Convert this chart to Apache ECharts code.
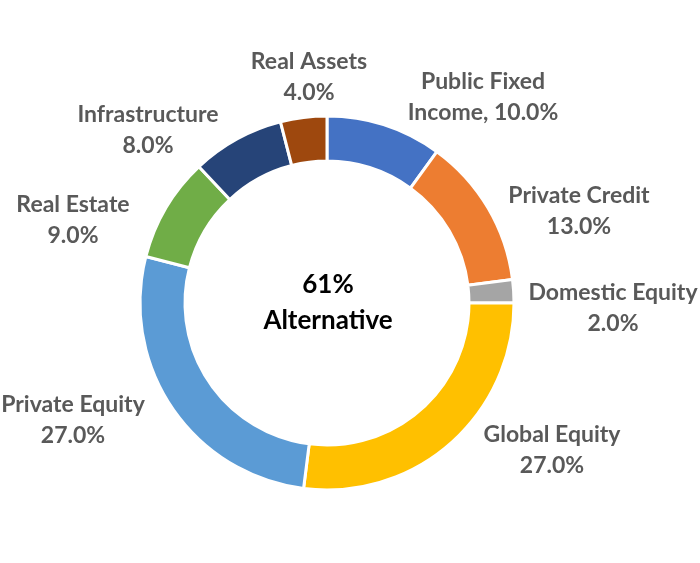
<!DOCTYPE html>
<html>
<head>
<meta charset="utf-8">
<script src="https://cdn.jsdelivr.net/npm/echarts@6/dist/echarts.min.js"></script>
<style>html,body{margin:0;padding:0;background:#fff}#c{width:700px;height:563px}</style>
</head>
<body>
<div id="c"></div>
<script>
// ---- data ----
const categories = ['Public Fixed Income', 'Private Credit', 'Domestic Equity', 'Global Equity', 'Private Equity', 'Real Estate', 'Infrastructure', 'Real Assets'];
const allocations = [10.0, 13.0, 2.0, 27.0, 27.0, 9.0, 8.0, 4.0];
const centerValue = '61%';
const centerCaption = 'Alternative';

// ---- style ----
const colors = ['#4472C4', '#ED7D31', '#A5A5A5', '#FFC000', '#5B9BD5', '#70AD47', '#264478', '#9E480E'];
const labelAnchors = [[483, 97], [579, 211], [613, 308], [552, 450], [73, 420], [73, 220], [148, 130], [309, 77]];
const FONT = 'Lato, "Open Sans", sans-serif';

const chart = echarts.init(document.getElementById('c'));
chart.setOption({
  animation: false,
  color: colors,
  graphic: [
    { type: 'text', x: 328, y: 285, style: { text: centerValue, align: 'center', verticalAlign: 'middle', font: 'bold 26px ' + FONT, fill: '#000' } },
    { type: 'text', x: 328, y: 321, style: { text: centerCaption, align: 'center', verticalAlign: 'middle', font: 'bold 26px ' + FONT, fill: '#000' } }
  ],
  series: [{
    type: 'pie',
    center: [327, 303],
    radius: [142, 187],
    startAngle: 90,
    clockwise: true,
    avoidLabelOverlap: false,
    itemStyle: { borderColor: '#fff', borderWidth: 3 },
    label: {
      show: true,
      position: 'outside',
      color: '#595959',
      fontFamily: FONT,
      fontWeight: 'bold',
      fontSize: 23,
      lineHeight: 31,
      align: 'center',
      formatter: function (p) {
        const pct = p.value.toFixed(1) + '%';
        if (p.name === 'Public Fixed Income') return 'Public Fixed\nIncome, ' + pct;
        return p.name + '\n' + pct;
      }
    },
    labelLine: { show: false },
    labelLayout: function (p) {
      const a = labelAnchors[p.dataIndex];
      return { x: a[0], y: a[1], align: 'center', verticalAlign: 'middle' };
    },
    data: categories.map((c, i) => ({ name: c, value: allocations[i] }))
  }]
});
</script>
</body>
</html>
